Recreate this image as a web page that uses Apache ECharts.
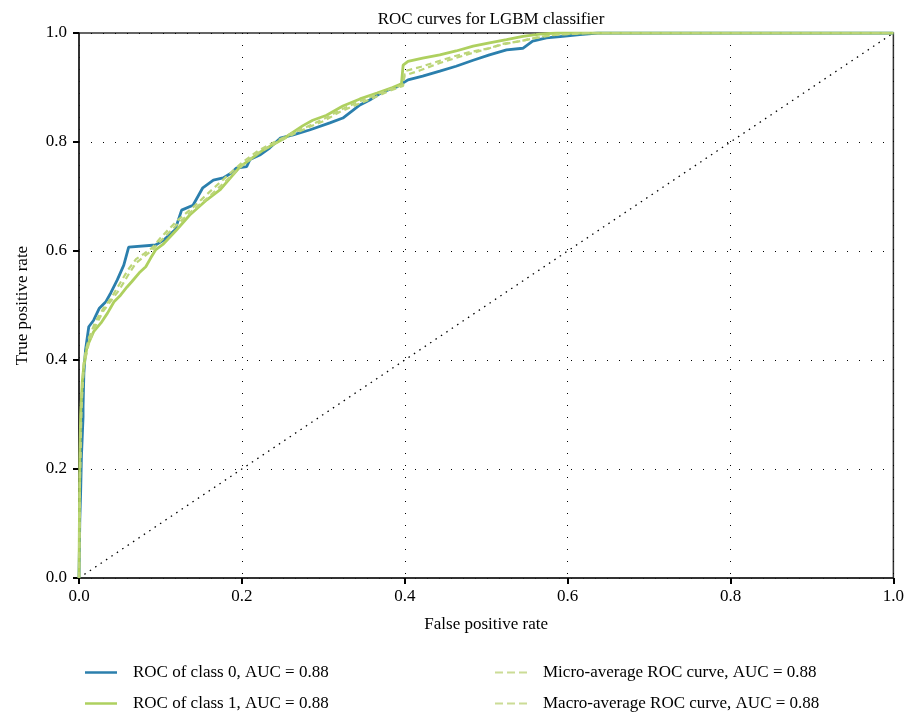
<!DOCTYPE html>
<html>
<head>
<meta charset="utf-8">
<script src="https://cdn.jsdelivr.net/npm/echarts@6/dist/echarts.min.js"></script>
<style>
    html, body { margin: 0; padding: 0; background: #fff; }
    #roc { width: 907px; height: 714px; }
</style>
</head>
<body>
<div id="roc"></div>
<script>
    // 数据：各曲线的 FPR / TPR
    var tickLabels = ['0.0', '0.2', '0.4', '0.6', '0.8', '1.0'];
    var seriesNames = [
        'ROC of class 0, AUC = 0.88',
        'ROC of class 1, AUC = 0.88',
        'Micro-average ROC curve, AUC = 0.88',
        'Macro-average ROC curve, AUC = 0.88'
    ];

    var class0Fpr = [0, 0.001, 0.002, 0.003, 0.005, 0.005, 0.006, 0.008, 0.012, 0.018, 0.025, 0.033, 0.039, 0.047, 0.055, 0.061, 0.094, 0.104, 0.118, 0.126, 0.14, 0.152, 0.165, 0.177, 0.187, 0.193, 0.206, 0.21, 0.222, 0.234, 0.247, 0.263, 0.283, 0.308, 0.324, 0.345, 0.357, 0.373, 0.39, 0.404, 0.422, 0.443, 0.463, 0.484, 0.504, 0.525, 0.545, 0.557, 0.574, 0.594, 0.615, 0.637, 1];
    var class0Tpr = [0, 0.106, 0.156, 0.223, 0.296, 0.314, 0.376, 0.418, 0.461, 0.473, 0.495, 0.507, 0.523, 0.547, 0.574, 0.607, 0.611, 0.62, 0.639, 0.675, 0.684, 0.716, 0.73, 0.734, 0.743, 0.752, 0.755, 0.768, 0.776, 0.789, 0.807, 0.813, 0.822, 0.835, 0.844, 0.868, 0.877, 0.892, 0.901, 0.914, 0.921, 0.93, 0.939, 0.95, 0.96, 0.969, 0.972, 0.985, 0.991, 0.994, 0.997, 1, 1];

    var class1Fpr = [0, 0.001, 0.002, 0.004, 0.006, 0.01, 0.018, 0.027, 0.035, 0.043, 0.051, 0.059, 0.065, 0.074, 0.082, 0.088, 0.094, 0.103, 0.12, 0.136, 0.157, 0.173, 0.187, 0.198, 0.226, 0.25, 0.275, 0.287, 0.304, 0.324, 0.345, 0.366, 0.385, 0.396, 0.398, 0.404, 0.422, 0.443, 0.463, 0.484, 0.504, 0.525, 0.545, 0.566, 0.587, 1];
    var class1Tpr = [0, 0.22, 0.3, 0.36, 0.39, 0.425, 0.452, 0.468, 0.486, 0.507, 0.519, 0.534, 0.544, 0.56, 0.571, 0.587, 0.602, 0.612, 0.639, 0.666, 0.694, 0.712, 0.736, 0.755, 0.785, 0.805, 0.83, 0.84, 0.849, 0.866, 0.879, 0.89, 0.9, 0.907, 0.941, 0.948, 0.954, 0.96, 0.967, 0.976, 0.982, 0.988, 0.994, 0.998, 1, 1];

    var microFpr = [0, 0.001, 0.003, 0.006, 0.012, 0.02, 0.03, 0.04, 0.05, 0.06, 0.07, 0.08, 0.09, 0.1, 0.12, 0.14, 0.16, 0.18, 0.2, 0.22, 0.24, 0.26, 0.28, 0.3, 0.32, 0.34, 0.36, 0.38, 0.397, 0.4, 0.42, 0.443, 0.46, 0.48, 0.504, 0.52, 0.545, 0.565, 0.587, 0.62, 1];
    var microTpr = [0, 0.18, 0.33, 0.4, 0.44, 0.47, 0.495, 0.515, 0.54, 0.565, 0.585, 0.595, 0.606, 0.624, 0.655, 0.68, 0.708, 0.735, 0.762, 0.784, 0.8, 0.815, 0.828, 0.842, 0.858, 0.872, 0.884, 0.896, 0.904, 0.922, 0.932, 0.945, 0.953, 0.962, 0.972, 0.979, 0.986, 0.992, 0.997, 1, 1];

    var macroFpr = [0, 0.001, 0.003, 0.006, 0.012, 0.02, 0.03, 0.04, 0.05, 0.06, 0.07, 0.08, 0.09, 0.1, 0.12, 0.14, 0.16, 0.18, 0.2, 0.22, 0.24, 0.26, 0.28, 0.3, 0.32, 0.34, 0.36, 0.38, 0.398, 0.4, 0.42, 0.443, 0.46, 0.48, 0.504, 0.52, 0.545, 0.565, 0.587, 0.625, 1];
    var macroTpr = [0, 0.16, 0.31, 0.39, 0.43, 0.462, 0.49, 0.51, 0.53, 0.555, 0.578, 0.59, 0.602, 0.618, 0.648, 0.675, 0.7, 0.728, 0.756, 0.78, 0.797, 0.812, 0.826, 0.838, 0.855, 0.868, 0.88, 0.893, 0.903, 0.93, 0.938, 0.949, 0.957, 0.965, 0.972, 0.98, 0.986, 0.993, 0.997, 1, 1];

    var diagFpr = [0, 1];
    var diagTpr = [0, 1];

    function zip(xs, ys) {
        return xs.map(function (x, i) { return [x, ys[i]]; });
    }

    var fontFamily = 'Liberation Serif';
    var labelText = { color: '#000', fontSize: 17, fontFamily: fontFamily };

    function axisBase() {
        return {
            type: 'value',
            min: 0,
            max: 1,
            interval: 0.2,
            axisLine: { show: true, lineStyle: { color: '#222', width: 1.5 } },
            axisTick: { show: true, inside: false, length: 6, lineStyle: { color: '#000', width: 2 } },
            axisLabel: {
                color: '#000', fontSize: 17, fontFamily: fontFamily,
                formatter: function (v) { return tickLabels[Math.round(v * 5)]; }
            },
            splitLine: { show: true, lineStyle: { color: '#000', width: 1, type: [1, 11] } },
            nameLocation: 'middle',
            nameTextStyle: labelText
        };
    }

    var xAxis = axisBase();
    xAxis.name = 'False positive rate';
    xAxis.nameGap = 38;
    xAxis.axisLabel.margin = 10;

    var yAxis = axisBase();
    yAxis.name = 'True positive rate';
    yAxis.nameGap = 48;
    yAxis.axisLabel.margin = 12;

    function lineSeries(name, data, color, width, type) {
        return {
            name: name,
            type: 'line',
            data: data,
            showSymbol: false,
            symbol: 'none',
            animation: false,
            lineStyle: { color: color, width: width, type: type },
            itemStyle: { color: color }
        };
    }

    // 图例：实线用细长矩形，虚线用三段短矩形
    var solidIcon = 'rect';
    var dashIcon = 'path://M0,0h8v2h-8zM12,0h8v2h-8zM24,0h8v2h-8z';

    function legendItem(name, icon, color) {
        return { name: name, icon: icon, itemStyle: { color: color } };
    }

    var legendText = { color: '#000', fontSize: 17, fontFamily: fontFamily, padding: [0, 0, 0, 11] };

    var option = {
        backgroundColor: '#fff',
        animation: false,
        title: {
            text: 'ROC curves for LGBM classifier',
            left: 486,
            textAlign: 'center',
            top: 6,
            textStyle: { color: '#000', fontSize: 17, fontWeight: 'normal', fontFamily: fontFamily }
        },
        grid: {
            show: true,
            left: 79,
            right: 13,
            top: 33,
            bottom: 136,
            borderColor: '#333',
            borderWidth: 1.5,
            backgroundColor: '#fff'
        },
        legend: [
            {
                data: [
                    legendItem(seriesNames[0], solidIcon, '#2b7fad'),
                    legendItem(seriesNames[1], solidIcon, '#aed05f')
                ],
                orient: 'vertical',
                left: 80,
                top: 659,
                height: 60,
                itemWidth: 32,
                itemHeight: 2.5,
                itemGap: 14,
                textStyle: legendText
            },
            {
                data: [
                    legendItem(seriesNames[2], dashIcon, '#cbdc96'),
                    legendItem(seriesNames[3], dashIcon, '#cbdc96')
                ],
                orient: 'vertical',
                left: 490,
                top: 659,
                height: 60,
                itemWidth: 32,
                itemHeight: 2,
                itemGap: 14,
                textStyle: legendText
            }
        ],
        xAxis: xAxis,
        yAxis: yAxis,
        series: [
            {
                name: 'chance',
                type: 'line',
                data: zip(diagFpr, diagTpr),
                symbol: 'none',
                silent: true,
                lineStyle: { color: '#000', width: 1.3, type: [1.5, 5] }
            },
            lineSeries(seriesNames[0], zip(class0Fpr, class0Tpr), '#2b7fad', 2.8, 'solid'),
            lineSeries(seriesNames[1], zip(class1Fpr, class1Tpr), '#aed05f', 2.8, 'solid'),
            lineSeries(seriesNames[2], zip(microFpr, microTpr), '#bcd579', 2.2, [6, 4]),
            lineSeries(seriesNames[3], zip(macroFpr, macroTpr), '#bcd579', 2.2, [6, 4])
        ]
    };

    var rocChart = echarts.init(document.getElementById('roc'));
    rocChart.setOption(option, true);
</script>
</body>
</html>
